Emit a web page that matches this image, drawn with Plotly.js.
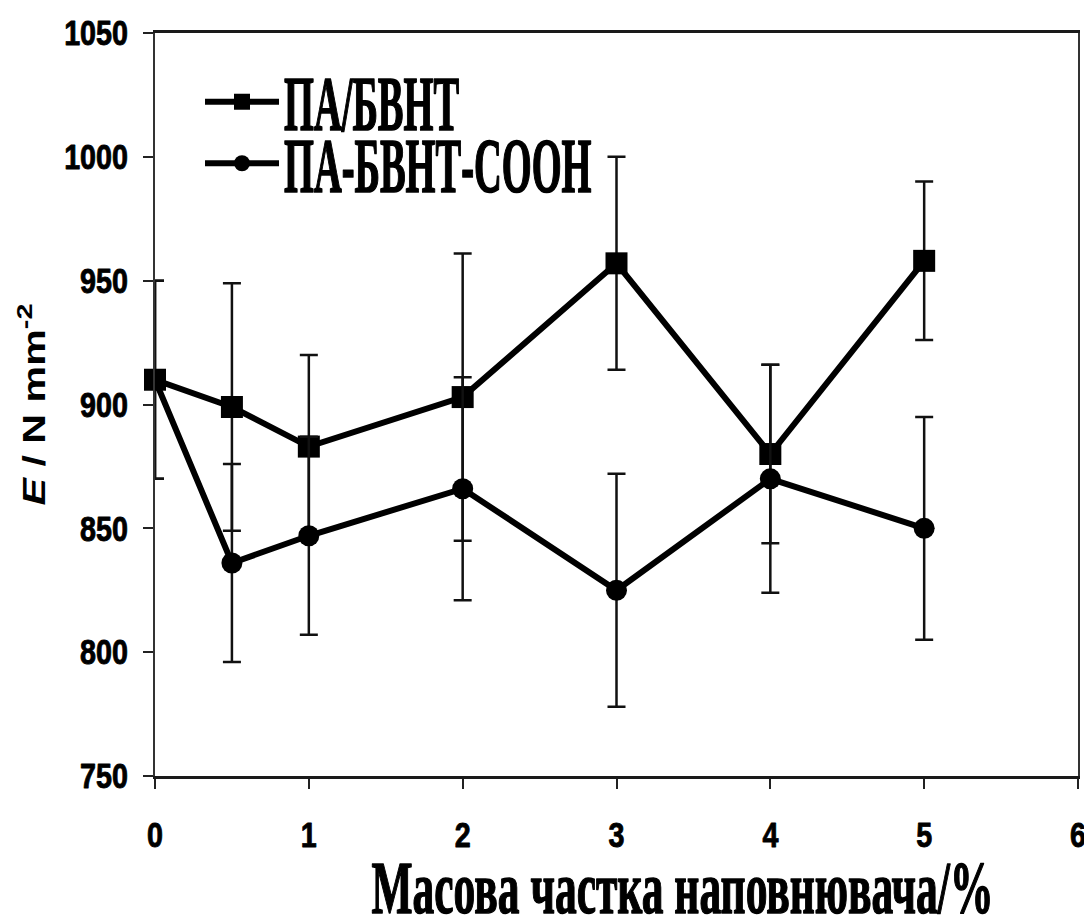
<!DOCTYPE html>
<html>
<head>
<meta charset="utf-8">
<script src="https://cdn.plot.ly/plotly-3.0.1.min.js"></script>
<style>
  html, body { margin: 0; padding: 0; background: #fff; }
  #chart { width: 1084px; height: 920px; }
</style>
</head>
<body>
<div id="chart"></div>
<script>
// Filler mass fraction, %
const fillerPct = [0, 0.5, 1, 2, 3, 4, 5];

// Young's modulus E, N/mm^2, with standard deviations
const paBvnt = [910, 899, 883, 903, 957, 880, 958];
const paBvntErr = [40, 50, 37, 58, 43, 36, 32];

const paBvntCooh = [910, 836, 847, 866, 825, 870, 850];
const paBvntCoohErr = [40, 40, 40, 45, 47, 46, 45];

const seriesNames = ['ПА/БВНТ', 'ПА-БВНТ-COOH'];
const xTitle = 'Масова частка наповнювача/%';
const yTitle = '<i>E</i> / N mm<sup>-2</sup>';

const sansFamily = "'Liberation Sans', Arial, sans-serif";
const serifFamily = "'Liberation Serif', 'DejaVu Serif', serif";

function series(name, y, err, symbol, size) {
  return {
    type: 'scatter',
    mode: 'lines+markers',
    name: name,
    x: fillerPct,
    y: y,
    cliponaxis: false,
    line: { color: '#000', width: 6 },
    marker: { symbol: symbol, size: size, color: '#000' },
    error_y: {
      type: 'data',
      array: err,
      visible: true,
      color: '#111',
      thickness: 2.5,
      width: 9
    }
  };
}

const traces = [
  series(seriesNames[0], paBvnt, paBvntErr, 'square', 22),
  series(seriesNames[1], paBvntCooh, paBvntCoohErr, 'circle', 21)
];

const tickFont = { family: sansFamily, size: 35, color: '#000', weight: 700 };

const layout = {
  width: 1084,
  height: 920,
  margin: { l: 155, r: 6, t: 33, b: 144, pad: 0 },
  paper_bgcolor: '#fff',
  plot_bgcolor: '#fff',
  showlegend: true,
  xaxis: {
    range: [0, 6],
    tick0: 0,
    dtick: 1,
    ticks: 'outside',
    ticklen: 10,
    tickwidth: 2,
    tickcolor: '#222',
    showline: true,
    linewidth: 3,
    linecolor: '#1a1a1a',
    mirror: true,
    showgrid: false,
    zeroline: false,
    tickfont: tickFont,
    ticklabelstandoff: 16,
    ticklabeloverflow: 'allow'
  },
  yaxis: {
    range: [750, 1050],
    tick0: 750,
    dtick: 50,
    ticks: 'outside',
    ticklen: 10,
    tickwidth: 2,
    tickcolor: '#222',
    showline: true,
    linewidth: 2,
    linecolor: '#333',
    mirror: true,
    showgrid: false,
    zeroline: false,
    tickfont: tickFont,
    ticklabelstandoff: 8,
    ticklabeloverflow: 'allow',
    title: {
      text: yTitle,
      font: { family: sansFamily, size: 31, color: '#000', weight: 700 },
      standoff: 0
    }
  },
  legend: {
    x: 0.0726,
    y: 0.9556,
    xanchor: 'left',
    yanchor: 'top',
    bgcolor: 'rgba(0,0,0,0)',
    font: { family: serifFamily, size: 45, color: '#000', weight: 700 },
    tracegroupgap: 0
  },
  annotations: [{
    text: xTitle,
    xref: 'paper',
    yref: 'paper',
    x: 0.572,
    y: -0.151,
    xanchor: 'center',
    yanchor: 'middle',
    showarrow: false,
    font: { family: serifFamily, size: 50, color: '#000', weight: 700 }
  }]
};

// Scale a text node about an anchor point of its own box (condensed, tall lettering)
function stretchText(node, sx, sy, anchor, dx, dy) {
  const b = node.getBBox();
  const cx = anchor === 'left' ? b.x : anchor === 'right' ? b.x + b.width : b.x + b.width / 2;
  const cy = b.y + b.height / 2;
  const prev = node.getAttribute('transform') || '';
  node.setAttribute('transform',
    prev + ' translate(' + (cx + (dx || 0)) + ' ' + (cy + (dy || 0)) + ') scale(' + sx + ' ' + sy + ') translate(' + (-cx) + ' ' + (-cy) + ')');
}

// Heavier strokes for the printed-look lettering
function embolden(node, w) {
  node.style.stroke = '#000';
  node.style.strokeWidth = w + 'px';
  node.style.strokeLinejoin = 'round';
}

Plotly.newPlot('chart', traces, layout, { staticPlot: true }).then(function (gd) {
  // narrow bold numerals on both axes
  gd.querySelectorAll('.xtick text').forEach(function (t) { stretchText(t, 0.82, 1, 'center'); embolden(t, 0.9); });
  gd.querySelectorAll('.ytick text').forEach(function (t) { stretchText(t, 0.82, 1, 'right'); embolden(t, 0.9); });
  // axis title lettering runs long along the axis
  gd.querySelectorAll('.ytitle').forEach(function (t) { stretchText(t, 1.33, 1, 'center', 0, 5); });

  // legend: let entries overflow their box, use longer sample lines, tall condensed labels
  gd.querySelectorAll('.legend [clip-path]').forEach(function (e) { e.removeAttribute('clip-path'); });
  gd.querySelectorAll('.legend .legendlines path').forEach(function (p) {
    p.setAttribute('d', 'M-17,0h74');
  });
  gd.querySelectorAll('.legend .legendtext').forEach(function (t) {
    stretchText(t, 0.855, 1.72, 'left', 22);
    embolden(t, 1.0);
  });
  gd.querySelectorAll('.annotation-text').forEach(function (t) {
    stretchText(t, 0.87, 1.5, 'center');
    embolden(t, 1.0);
  });
});
</script>
</body>
</html>
